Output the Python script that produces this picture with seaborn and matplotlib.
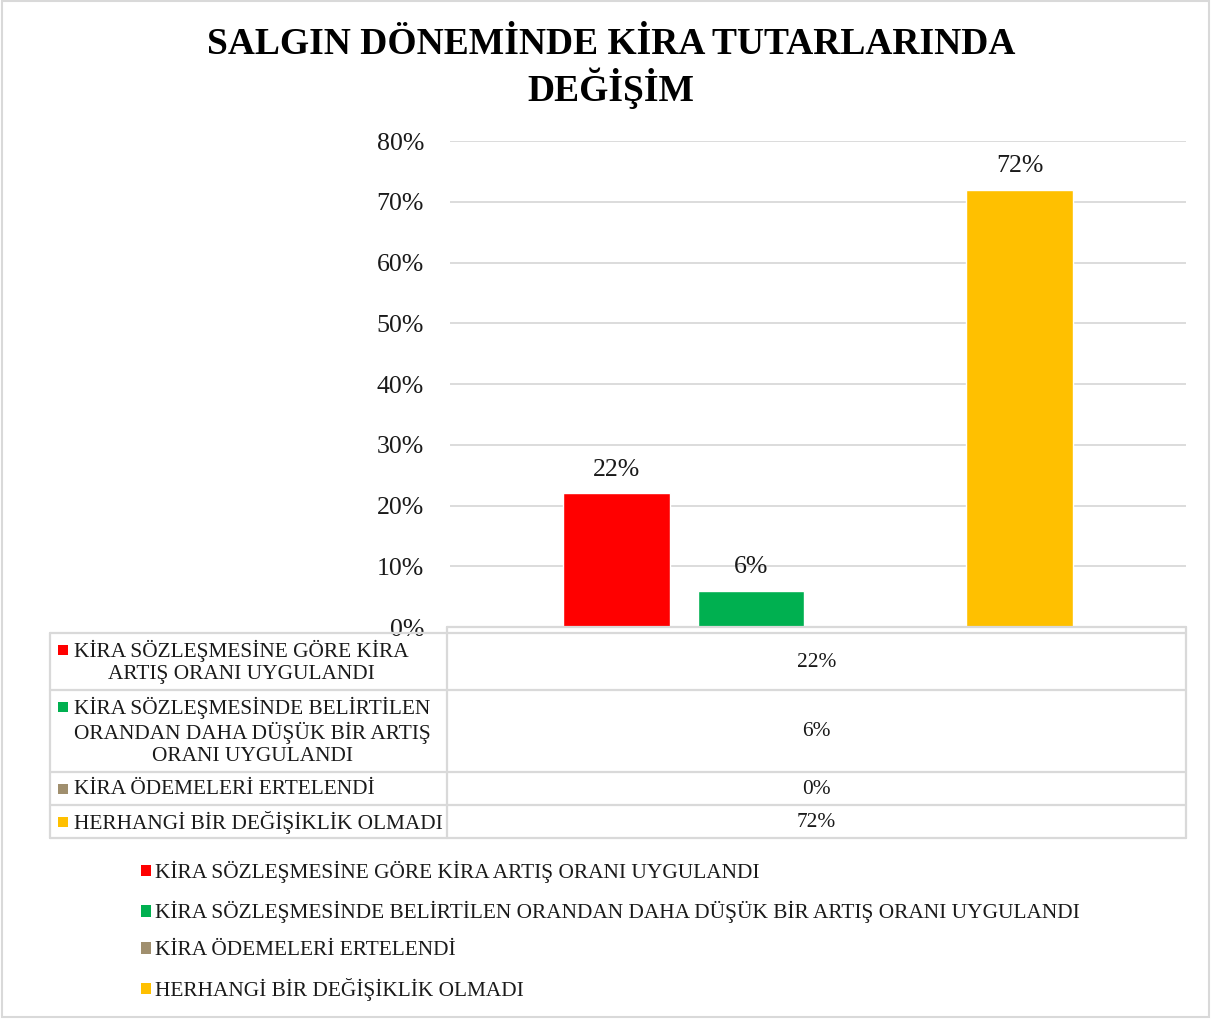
import matplotlib
matplotlib.use("Agg")
import matplotlib.pyplot as plt
from matplotlib.patches import Rectangle, Patch
from matplotlib.ticker import PercentFormatter
import seaborn as sns
import pandas as pd

# ---------------- data ----------------
title = "SALGIN DÖNEMİNDE KİRA TUTARLARINDA\nDEĞİŞİM"
series = [
    "KİRA SÖZLEŞMESİNE GÖRE KİRA ARTIŞ ORANI UYGULANDI",
    "KİRA SÖZLEŞMESİNDE BELİRTİLEN ORANDAN DAHA DÜŞÜK BİR ARTIŞ ORANI UYGULANDI",
    "KİRA ÖDEMELERİ ERTELENDİ",
    "HERHANGİ BİR DEĞİŞİKLİK OLMADI",
]
table_labels = [
    "KİRA SÖZLEŞMESİNE GÖRE KİRA\nARTIŞ ORANI UYGULANDI",
    "KİRA SÖZLEŞMESİNDE BELİRTİLEN\nORANDAN DAHA DÜŞÜK BİR ARTIŞ\nORANI UYGULANDI",
    "KİRA ÖDEMELERİ ERTELENDİ",
    "HERHANGİ BİR DEĞİŞİKLİK OLMADI",
]
values = [0.22, 0.06, 0.00, 0.72]
colors = ["#FF0000", "#00B050", "#A08F6E", "#FFC000"]
yticks = [0, 0.1, 0.2, 0.3, 0.4, 0.5, 0.6, 0.7, 0.8]

# ---------------- figure ----------------
W, H = 1214, 1019
sns.set_theme(style="white")
plt.rcParams["font.family"] = ["Liberation Serif", "DejaVu Serif"]
fig = plt.figure(figsize=(W / 100, H / 100), dpi=100)
fig.patch.set_facecolor("white")

def fx(px):
    return px / W

def fy(py):
    return 1 - py / H

SMALL = 15.4
AXIS = 18.6

# main bar axes
ax_l, ax_r, ax_t, ax_b = 450, 1186, 141, 627
ax = fig.add_axes([fx(ax_l), fy(ax_b), (ax_r - ax_l) / W, (ax_b - ax_t) / H])
df = pd.DataFrame({"cat": [""] * len(series), "series": series, "value": values})
sns.barplot(data=df, x="cat", y="value", hue="series", hue_order=series,
            palette=colors, saturation=1, width=0.73, gap=0.21,
            legend=False, ax=ax, zorder=3)
ax.set_ylim(0, 0.8)
ax.set_yticks(yticks)
ax.yaxis.set_major_formatter(PercentFormatter(1.0, decimals=0))
ax.set_xlabel("")
ax.set_ylabel("")
ax.set_xticks([])
ax.grid(axis="y", color="#d9d9d9", linewidth=1.3, zorder=0)
ax.set_axisbelow(True)
for s in ax.spines.values():
    s.set_visible(False)
ax.tick_params(axis="y", length=0, pad=18.7, labelsize=AXIS, labelcolor="#1a1a1a")

for cont, v in zip(ax.containers, values):
    ax.bar_label(cont, labels=[f"{v:.0%}" if v > 0 else ""], padding=9,
                 fontsize=AXIS, color="#1a1a1a")

# ---------------- title ----------------
fig.text(fx(611), fy(68), title, ha="center", va="center", fontsize=27,
         fontweight="bold", color="black", linespacing=1.15)

# ---------------- data table ----------------
tax = fig.add_axes([0, 0, 1, 1], facecolor="none")
tax.set_xlim(0, W)
tax.set_ylim(H, 0)
tax.axis("off")

line_kw = dict(color="#d9d9d9", linewidth=1.6)
t_left, t_mid, t_right = 50, 447, 1186
t_head = 627
row_edges = [633, 690, 772, 805, 838]
tax.plot([t_mid, t_right], [t_head, t_head], **line_kw)
for y in row_edges:
    tax.plot([t_left, t_right], [y, y], **line_kw)
tax.plot([t_left, t_left], [row_edges[0], row_edges[-1]], **line_kw)
tax.plot([t_mid, t_mid], [t_head, row_edges[-1]], **line_kw)
tax.plot([t_right, t_right], [t_head, row_edges[-1]], **line_kw)

for i, (lab, v, c) in enumerate(zip(table_labels, values, colors)):
    top, bot = row_edges[i], row_edges[i + 1]
    cy = (top + bot) / 2
    tax.add_patch(Rectangle((58, top + 11.5), 10, 10, color=c, lw=0))
    tax.text(74, cy + 0.5, lab, ha="left", va="center", multialignment="center",
             fontsize=SMALL, color="#1a1a1a", linespacing=1.21)
    tax.text((t_mid + t_right) / 2, cy + 1, f"{v:.0%}", ha="center", va="center",
             fontsize=SMALL, color="#1a1a1a")

# ---------------- legend ----------------
handles = [Patch(facecolor=c, edgecolor="none") for c in colors]
fig.legend(handles, series, loc="upper left",
           bbox_to_anchor=(fx(141), fy(861)), frameon=False, fontsize=SMALL,
           handlelength=0.47, handleheight=0.47, handletextpad=0.19,
           labelspacing=0.84, borderpad=0, borderaxespad=0,
           labelcolor="#1a1a1a")

# outer chart border
tax.add_patch(Rectangle((2, 1), 1207, 1016, fill=False, edgecolor="#d9d9d9",
                        linewidth=1.5))

fig.savefig("out.png", dpi=100, facecolor="white")
